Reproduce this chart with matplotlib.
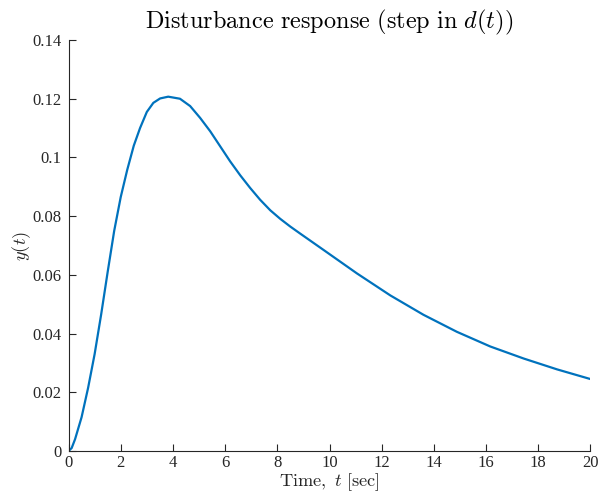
import matplotlib
matplotlib.use("Agg")
import matplotlib.pyplot as plt

plt.rcParams['mathtext.fontset'] = 'cm'
plt.rcParams['font.family'] = ['Liberation Serif', 'DejaVu Serif']

t = [0, 0.12, 0.25, 0.5, 0.75, 1.0, 1.25, 1.5, 1.75, 2.0, 2.25, 2.5, 2.74,
     3.0, 3.25, 3.51, 3.82, 4.27, 4.66, 5.04, 5.43, 5.81, 6.19, 6.58, 6.96,
     7.34, 7.73, 8.11, 8.49, 8.87, 9.77, 11.05, 12.33, 13.6, 14.88, 16.16,
     17.44, 18.72, 20]
y = [0, 0.001, 0.004, 0.0115, 0.0215, 0.033, 0.0465, 0.061, 0.075, 0.0865,
     0.0958, 0.104, 0.110, 0.1155, 0.1186, 0.1201, 0.1207, 0.1200, 0.1175,
     0.1135, 0.1089, 0.1038, 0.0987, 0.0939, 0.0896, 0.0856, 0.0820, 0.0791,
     0.0765, 0.0741, 0.0685, 0.0605, 0.0530, 0.0464, 0.0406, 0.0356, 0.0315,
     0.0278, 0.0245]

xticks = [0, 2, 4, 6, 8, 10, 12, 14, 16, 18, 20]
yticks = [0, 0.02, 0.04, 0.06, 0.08, 0.1, 0.12, 0.14]
ytick_labels = ['0', '0.02', '0.04', '0.06', '0.08', '0.1', '0.12', '0.14']

fig = plt.figure(figsize=(5.99, 4.99), dpi=100)
ax = fig.add_axes([0.1144, 0.0962, 0.8714, 0.8236])
ax.plot(t, y, color='#0072BD', lw=1.6, solid_joinstyle='round')
ax.set_xlim(0, 20)
ax.set_ylim(0, 0.14)
ax.set_xticks(xticks)
ax.set_xticklabels([str(v) for v in xticks])
ax.set_yticks(yticks)
ax.set_yticklabels(ytick_labels)
for s in ['top', 'right']:
    ax.spines[s].set_visible(False)
for s in ['left', 'bottom']:
    ax.spines[s].set_color('#262626')
    ax.spines[s].set_linewidth(0.8)
ax.tick_params(direction='in', length=5, width=0.8, colors='#262626',
               labelsize=12)
ax.tick_params(axis='x', pad=3)
ax.tick_params(axis='y', pad=5)
ax.set_title(r'$\mathrm{Disturbance\ response\ (step\ in\ }d(t))$',
             fontsize=17.5, color='black', pad=8)
ax.set_xlabel(r'$\mathrm{Time,}\ t\ \mathrm{[sec]}$', fontsize=13.2,
              labelpad=0, color='#262626')
ax.set_ylabel(r'$y(t)$', fontsize=13.2, labelpad=-0.5, color='#262626')
fig.savefig('out.png', dpi=100)
